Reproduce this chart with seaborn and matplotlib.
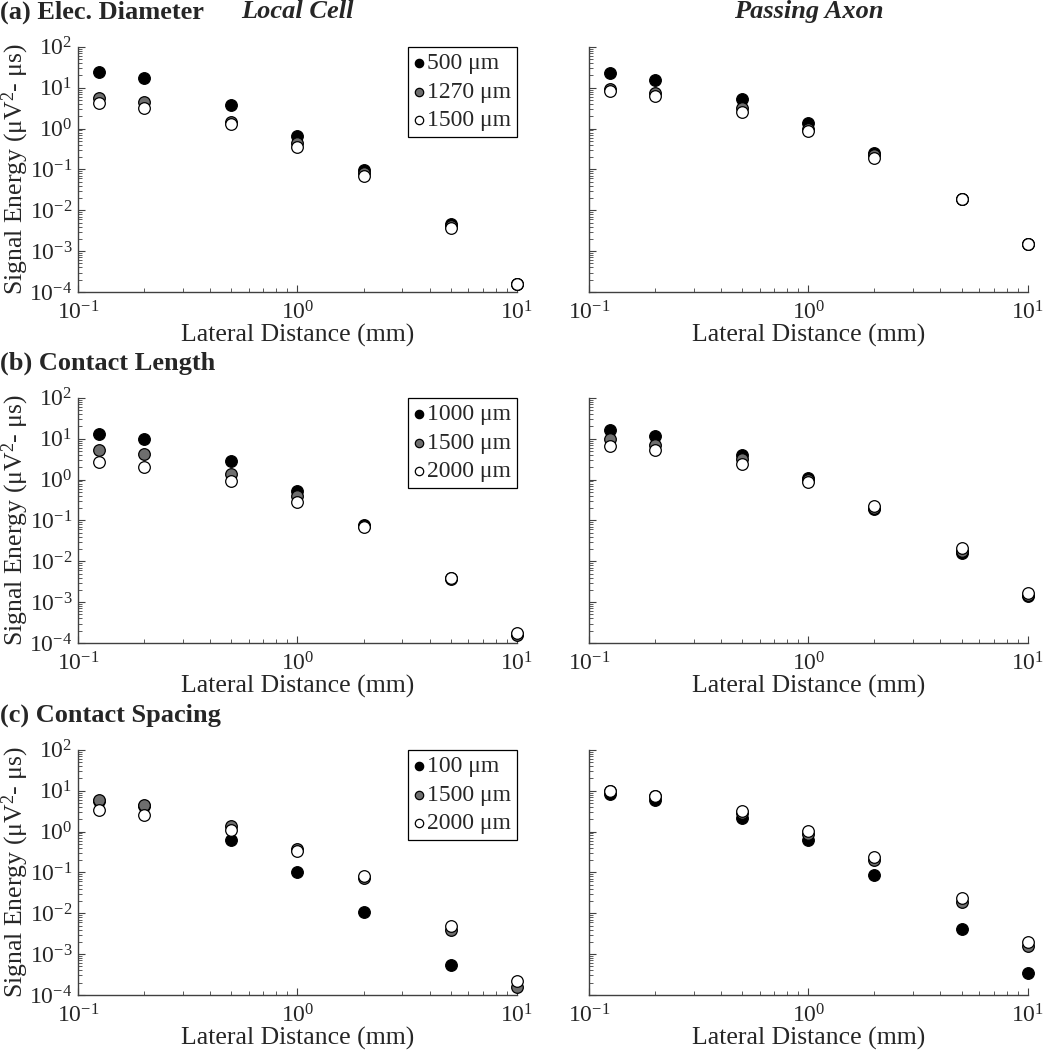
import numpy as np
import pandas as pd
import seaborn as sns
import matplotlib.pyplot as plt
from matplotlib.ticker import LogLocator, NullFormatter

sns.set_style('ticks')
plt.rcParams['font.family'] = ['Liberation Serif', 'DejaVu Serif']
plt.rcParams['mathtext.fontset'] = 'custom'
plt.rcParams['mathtext.rm'] = 'Liberation Serif'
plt.rcParams['mathtext.it'] = 'Liberation Serif:italic'
plt.rcParams['axes.unicode_minus'] = False

# lateral distance (mm)
dist = [0.125, 0.2, 0.5, 1, 2, 5, 10]

# (a) electrode diameter
diam_labels = ['500 μm', '1270 μm', '1500 μm']
diam_local = [
    [24.5, 17.5, 3.75, 0.67, 0.097, 0.0045, 1.6e-4],
    [5.7, 4.5, 1.47, 0.45, 0.083, 0.0041, 1.6e-4],
    [4.3, 3.2, 1.26, 0.35, 0.069, 0.0036, 1.6e-4],
]
diam_axon = [
    [22.7, 15.3, 5.15, 1.39, 0.257, 0.0186, 0.0015],
    [9.5, 7.5, 3.1, 1.0, 0.22, 0.0186, 0.0015],
    [8.2, 6.2, 2.6, 0.85, 0.19, 0.0185, 0.0015],
]

# (b) contact length
len_labels = ['1000 μm', '1500 μm', '2000 μm']
len_local = [
    [13.0, 9.6, 2.8, 0.54, 0.076, 0.0038, 1.7e-4],
    [5.4, 4.15, 1.4, 0.39, 0.072, 0.0036, 1.6e-4],
    [2.75, 2.07, 0.91, 0.285, 0.070, 0.0039, 1.8e-4],
]
len_axon = [
    [16.0, 11.6, 4.0, 1.12, 0.19, 0.0158, 0.0014],
    [9.8, 7.2, 3.1, 1.0, 0.20, 0.0174, 0.0015],
    [6.8, 5.3, 2.4, 0.88, 0.22, 0.021, 0.00166],
]

# (c) contact spacing
spc_labels = ['100 μm', '1500 μm', '2000 μm']
spc_local = [
    [5.5, 4.2, 0.61, 0.104, 0.011, 5.4e-4, np.nan],  # last point below axis range
    [5.75, 4.35, 1.4, 0.37, 0.072, 0.004, 1.6e-4],
    [3.4, 2.6, 1.1, 0.33, 0.081, 0.005, 2.2e-4],
]
spc_axon = [
    [8.2, 5.8, 2.17, 0.61, 0.088, 0.0041, 3.5e-4],
    [9.8, 7.2, 2.8, 0.85, 0.197, 0.0185, 0.00155],
    [9.9, 7.5, 3.15, 1.02, 0.24, 0.024, 0.002],
]

colors = ['black', '0.43', 'white']
col_titles = ['Local Cell', 'Passing Axon']

rows = [
    ('(a) Elec. Diameter', diam_labels, diam_local, diam_axon),
    ('(b) Contact Length', len_labels, len_local, len_axon),
    ('(c) Contact Spacing', spc_labels, spc_local, spc_axon),
]

fig = plt.figure(figsize=(10.44, 10.5), dpi=100)
lefts = [0.0747, 0.564]
bottoms = [0.7219, 0.3876, 0.0524]
w, h = 0.4205, 0.2335


def style_axis(ax, show_ylabels):
    ax.set_xscale('log')
    ax.set_yscale('log')
    ax.set_xlim(0.1, 10)
    ax.set_ylim(1e-4, 1e2)
    ax.xaxis.set_major_locator(LogLocator(base=10, numticks=10))
    ax.yaxis.set_major_locator(LogLocator(base=10, numticks=10))
    ax.xaxis.set_minor_locator(LogLocator(base=10, subs=np.arange(2, 10), numticks=20))
    ax.yaxis.set_minor_locator(LogLocator(base=10, subs=np.arange(2, 10), numticks=20))
    ax.xaxis.set_minor_formatter(NullFormatter())
    ax.yaxis.set_minor_formatter(NullFormatter())
    sns.despine(ax=ax)
    for s in ['left', 'bottom']:
        ax.spines[s].set_color('0.25')
        ax.spines[s].set_linewidth(1.0)
    ax.tick_params(which='major', direction='in', length=5, width=0.8,
                   color='0.25', labelsize=17)
    ax.tick_params(axis='x', which='major', pad=7)
    ax.tick_params(axis='y', which='major', pad=4)
    ax.tick_params(which='minor', direction='in', length=3, width=0.6, color='0.25')
    if not show_ylabels:
        ax.tick_params(axis='y', labelleft=False)
    ax.set_xlabel('Lateral Distance (mm)', fontsize=18.5, labelpad=-1)


for r, (panel, labels, local, axon) in enumerate(rows):
    for c, series in enumerate([local, axon]):
        ax = fig.add_axes([lefts[c], bottoms[r], w, h])
        for lab, vals, col in zip(labels, series, colors):
            df = pd.DataFrame({'dist': dist, 'energy': vals})
            sns.scatterplot(data=df, x='dist', y='energy', color=col,
                            edgecolor='black', linewidth=0.9, s=70,
                            label=lab, ax=ax, clip_on=False, zorder=3)
        style_axis(ax, c == 0)
        if c == 0:
            ax.set_ylabel('Signal Energy (μV$^{2}$- μs)', fontsize=18.5)
            ax.yaxis.set_label_coords(-0.108, 0.5)
            leg = ax.legend(loc='upper right', fontsize=17, frameon=True,
                            fancybox=False, edgecolor='black', framealpha=1,
                            borderaxespad=0, handletextpad=0.1, handlelength=0.45,
                            labelspacing=0.3, borderpad=0.25, markerscale=0.72)
            leg.get_frame().set_linewidth(0.9)
        else:
            ax.set_ylabel('')
            ax.get_legend().remove()
        if r == 0:
            fig.text(lefts[c] + w / 2, 0.9895, col_titles[c], fontsize=19,
                     fontweight='bold', style='italic', ha='center', va='center')
    fig.text(0.0, bottoms[r] + h + 0.033, panel,
             fontsize=19, fontweight='bold', ha='left', va='center')

fig.savefig('out.png', dpi=100)
